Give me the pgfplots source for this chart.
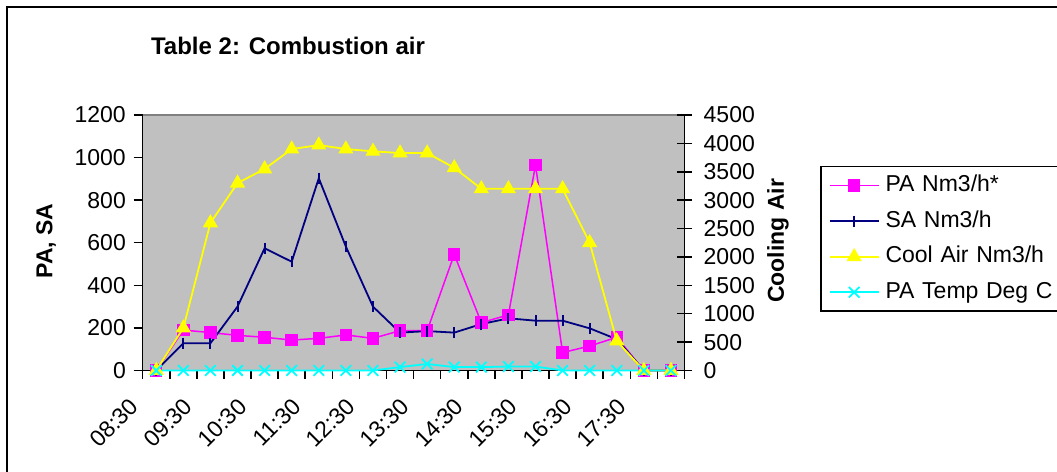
\documentclass[border=0pt]{standalone}
\usepackage{pgfplots}
\pgfplotsset{compat=1.18}
\usepackage{pgfplotstable}
\usepackage{fontspec}
\setmainfont{Liberation Sans}

\definecolor{plotbg}{HTML}{C0C0C0}
\definecolor{pamag}{HTML}{FF00FF}
\definecolor{sanavy}{HTML}{000080}
\definecolor{coolyel}{HTML}{FFFF00}
\definecolor{tempcyan}{HTML}{00FFFF}

% t = half-hour slot from 08:30
\pgfplotstableread{
t  pa   sa   cool  temp
0  0    0    0     0
1  190  128  750   0
2  178  128  2600  0
3  165  300  3300  0
4  156  574  3550  0
5  143  511  3900  0
6  151  903  3970  0
7  167  582  3900  0
8  151  300  3860  0
9  187  178  3830  60
10 187  185  3830  115
11 545  178  3570  60
12 225  218  3200  60
13 261  245  3200  70
14 965  234  3200  70
15 84   234  3200  0
16 115  198  2250  0
17 156  147  520   0
18 0    0    0     0
19 0    0    0     0
}\combair

\pgfplotsset{
  pastyle/.style={color=pamag, line width=1.5bp, mark=square*, mark size=5.5bp, mark options={solid}},
  sastyle/.style={color=sanavy, line width=1.8bp, mark=|, mark size=5.5bp, mark options={solid, line width=2bp}},
  coolstyle/.style={color=coolyel, line width=1.8bp, mark=triangle*, mark size=7bp, mark options={solid}},
  tempstyle/.style={color=tempcyan, line width=1.8bp, mark=x, mark size=7.5bp, mark options={solid, line width=1.8bp}},
  bigfont/.style={font=\fontsize{23bp}{27bp}\selectfont},
}

\begin{document}
\begin{tikzpicture}
\useasboundingbox (0,0) rectangle (1057bp,472bp);
\clip (0,0) rectangle (1057bp,472bp);
\draw[line width=2bp] (7bp,-20bp) -- (7bp,465bp) -- (1080bp,465bp);
\node[font=\fontsize{24bp}{28bp}\selectfont\bfseries] at (288bp,426bp) {Table 2: Combustion air};
\node[rotate=90, font=\fontsize{23bp}{27bp}\selectfont\bfseries] at (46bp,231bp) {PA, SA};
\node[rotate=90, font=\fontsize{23bp}{27bp}\selectfont\bfseries] at (778bp,231bp) {Cooling Air};

\begin{axis}[
  at={(142.7bp,101.5bp)}, anchor=south west,
  scale only axis, width=541.8bp, height=255.5bp,
  xmin=-0.5, xmax=19.5, ymin=0, ymax=1200,
  clip=false,
  axis x line*=bottom, axis y line*=left,
  axis line style={black, line width=1.5bp},
  axis background/.style={fill=plotbg},
  xtick={0,2,...,18},
  xticklabels={08:30,09:30,10:30,11:30,12:30,13:30,14:30,15:30,16:30,17:30},
  major x tick style={draw=none},
  minor xtick={-0.5,0.5,...,19.5},
  minor tick length=8bp,
  minor x tick style={draw=black, line width=1.5bp},
  xticklabel style={xshift=-22bp, yshift=-23bp, rotate=45, anchor=east, inner sep=0pt},
  ytick={0,200,...,1200},
  yticklabel style={anchor=east, inner sep=0pt, xshift=-7.7bp},
  tick align=outside, major tick length=9bp,
  tick style={black, line width=1.5bp},
  tick label style={bigfont},
  scaled y ticks=false,
  /pgf/number format/1000 sep={},
  /pgf/number format/assume math mode=true,
]
\addplot[pastyle] table[x=t, y=pa] {\combair};
\addplot[sastyle] table[x=t, y=sa] {\combair};
\draw[color=gray, line width=1.5bp] (rel axis cs:0,1) -- (rel axis cs:1,1);
% category boundary ticks
\pgfplotsinvokeforeach{-0.5,0.5,...,19.5}{
  \draw[black, line width=1.5bp] (axis cs:#1,0) -- ([yshift=-8bp]axis cs:#1,0);
}
\end{axis}

\begin{axis}[
  at={(142.7bp,101.5bp)}, anchor=south west,
  scale only axis, width=541.8bp, height=255.5bp,
  xmin=-0.5, xmax=19.5, ymin=0, ymax=4500,
  clip=false,
  axis x line=none, axis y line*=right,
  axis line style={black, line width=1.5bp},
  ytick={0,500,...,4500},
  yticklabel style={anchor=west, inner sep=0pt, xshift=11.5bp},
  tick align=center, major tick length=15bp,
  tick style={black, line width=1.5bp},
  tick label style={bigfont},
  scaled y ticks=false,
  /pgf/number format/1000 sep={},
  /pgf/number format/assume math mode=true,
  legend cell align=left,
  legend image code/.code={\draw[mark repeat=2, mark phase=2, #1] plot coordinates {(0bp,0bp) (24.5bp,0bp) (49bp,0bp)};},
  legend style={at={(1.2501,0.8004)}, anchor=north west, draw=black, line width=1.5bp, fill=white,
    font=\fontsize{23bp}{27bp}\selectfont, inner xsep=8bp, inner ysep=8bp, row sep=13.5bp,
    nodes={inner sep=0pt, text height=17bp, text depth=5bp},
    /tikz/every odd column/.append style={column sep=6bp},
    /tikz/every even column/.append style={text width=190bp}},
]
\addlegendimage{pastyle}\addlegendentry{PA Nm3/h*}
\addlegendimage{sastyle}\addlegendentry{SA Nm3/h}
\addplot[coolstyle] table[x=t, y=cool] {\combair};
\addlegendentry{Cool Air Nm3/h}
\addplot[tempstyle] table[x=t, y=temp] {\combair};
\addlegendentry{PA Temp Deg C}
\end{axis}
\end{tikzpicture}
\end{document}
